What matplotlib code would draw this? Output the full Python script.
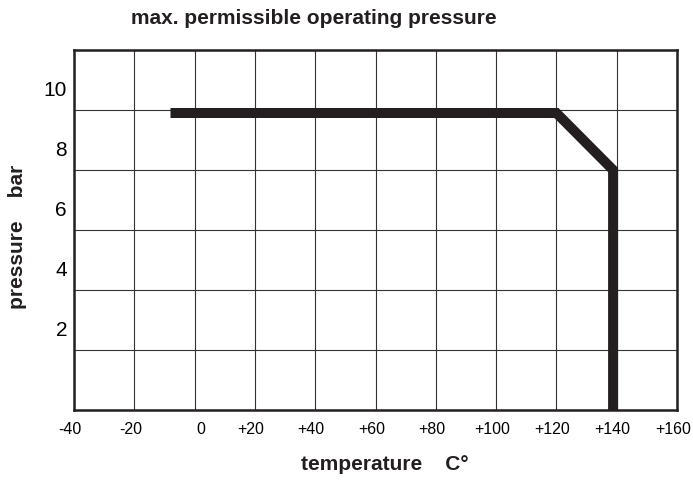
import matplotlib
matplotlib.use("Agg")
import matplotlib.pyplot as plt
import matplotlib.transforms as mtransforms

plt.rcParams['font.family'] = ['Liberation Sans', 'DejaVu Sans']

# limit curve (temperature in C, pressure in bar)
temp = [-8, 120, 138.8, 138.8]
pressure = [9.9, 9.9, 8.0, 0.0]

x_ticks = [-40, -20, 0, 20, 40, 60, 80, 100, 120, 140, 160]
x_labels = ['-40', '-20', '0', '+20', '+40', '+60', '+80', '+100', '+120', '+140', '+160']
y_ticks = [2, 4, 6, 8, 10]
y_labels = ['2', '4', '6', '8', '10']

ink = '#231f20'

fig = plt.figure(figsize=(6.93, 4.82), dpi=100)
ax = fig.add_axes([74 / 693, 72 / 482, 603 / 693, 360 / 482])

ax.plot(temp, pressure, color=ink, lw=7.2, solid_joinstyle='miter',
        solid_capstyle='butt', zorder=3)

ax.set_xlim(-40, 160)
ax.set_ylim(0, 12)
ax.set_xticks(x_ticks)
ax.set_xticklabels(x_labels, fontsize=11.5)
ax.set_yticks(y_ticks)
ax.set_yticklabels(y_labels, fontsize=15)
ax.tick_params(length=0)
ax.tick_params(axis='x', pad=9)
ax.tick_params(axis='y', pad=5)

# labels in the original sit a little off their gridlines
up = mtransforms.ScaledTranslation(0, 22 / 100, fig.dpi_scale_trans)
for lab in ax.get_yticklabels():
    lab.set_transform(lab.get_transform() + up)
for lab in ax.get_xticklabels():
    dx = 6 if lab.get_text() == '0' else -4
    lab.set_transform(lab.get_transform() +
                      mtransforms.ScaledTranslation(dx / 100, 0, fig.dpi_scale_trans))

ax.grid(True, color='#333333', lw=0.8)
ax.set_axisbelow(True)
for s in ax.spines.values():
    s.set_linewidth(1.8)
    s.set_color(ink)

fig.text(385 / 693, 1 - 465 / 482, 'temperature    C°', fontsize=15, fontweight='bold',
         color=ink, ha='center', va='center')
fig.text(18 / 693, 1 - 237 / 482, 'pressure    bar', fontsize=15, fontweight='bold',
         color=ink, ha='center', va='center', rotation=90)
fig.text(314 / 693, 1 - 19 / 482, 'max. permissible operating pressure', fontsize=15,
         fontweight='bold', color=ink, ha='center', va='center')

fig.savefig('out.png', dpi=100)
